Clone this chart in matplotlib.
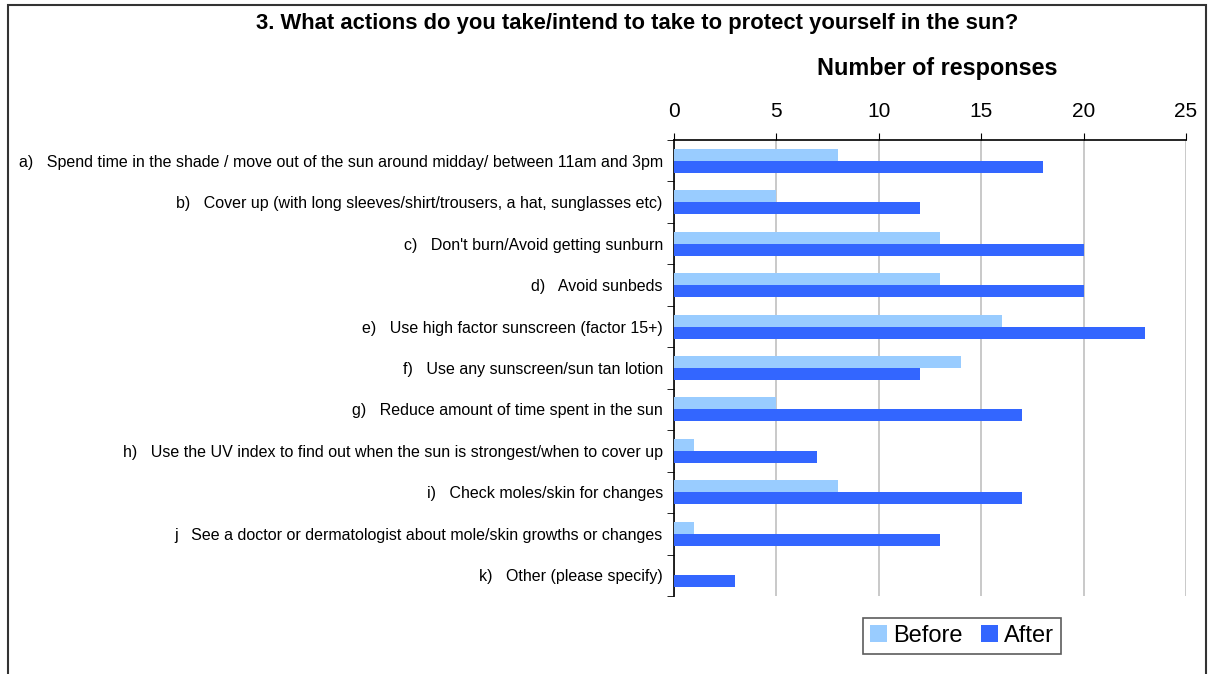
import matplotlib.pyplot as plt
import numpy as np
from matplotlib.patches import Rectangle

plt.rcParams['font.family'] = ['Liberation Sans', 'DejaVu Sans']

labels = [
    "a)   Spend time in the shade / move out of the sun around midday/ between 11am and 3pm",
    "b)   Cover up (with long sleeves/shirt/trousers, a hat, sunglasses etc)",
    "c)   Don't burn/Avoid getting sunburn",
    "d)   Avoid sunbeds",
    "e)   Use high factor sunscreen (factor 15+)",
    "f)   Use any sunscreen/sun tan lotion",
    "g)   Reduce amount of time spent in the sun",
    "h)   Use the UV index to find out when the sun is strongest/when to cover up",
    "i)   Check moles/skin for changes",
    "j   See a doctor or dermatologist about mole/skin growths or changes",
    "k)   Other (please specify)",
]
before = [8, 5, 13, 13, 16, 14, 5, 1, 8, 1, 0]
after = [18, 12, 20, 20, 23, 12, 17, 7, 17, 13, 3]

fig = plt.figure(figsize=(12.13, 6.74), dpi=100)
ax = fig.add_axes([0.5556, 0.1157, 0.4221, 0.6766])

y = np.arange(len(labels))
h = 0.29
ax.barh(y - h/2, before, height=h, color='#99CCFF', label='Before', zorder=3)
ax.barh(y + h/2, after, height=h, color='#3366FF', label='After', zorder=3)

ax.set_xlim(0, 25)
ax.set_ylim(len(labels) - 0.5, -0.5)
ax.xaxis.tick_top()
ax.set_xticks([0, 5, 10, 15, 20, 25])
ax.tick_params(axis='x', labelsize=15, direction='out', length=5, pad=9, colors='black')
ax.xaxis.grid(True, color='#c0c0c0', linewidth=1.2, zorder=0)

ax.set_yticks(y)
ax.set_yticklabels(labels, fontsize=11.5)
ax.set_yticks(np.arange(-0.5, len(labels)), minor=True)
ax.tick_params(axis='y', which='major', length=0, pad=8)
ax.tick_params(axis='y', which='minor', length=5, direction='out')

for s in ['right', 'bottom']:
    ax.spines[s].set_visible(False)
ax.spines['left'].set_linewidth(1.2)
ax.spines['top'].set_linewidth(1.2)

fig.text(637/1213, 1 - 23/674, '3. What actions do you take/intend to take to protect yourself in the sun?',
         ha='center', va='center', fontsize=15.8, fontweight='bold')
fig.text(937/1213, 1 - 68/674, 'Number of responses', ha='center', va='center',
         fontsize=16.8, fontweight='bold')

leg = ax.legend(loc='upper left', bbox_to_anchor=(0.347, -0.022), ncol=2, fontsize=17,
                frameon=True, fancybox=False, edgecolor='#333333', handlelength=0.7,
                handleheight=0.7, handletextpad=0.25, columnspacing=0.8, borderpad=0.3)
leg.get_frame().set_linewidth(1.2)

fig.patches.append(Rectangle((8/1213, -0.05), 1198/1213, 1.05 - 5/674, transform=fig.transFigure,
                             fill=False, edgecolor='#333333', linewidth=1.5))

plt.savefig('out.png', dpi=100)
